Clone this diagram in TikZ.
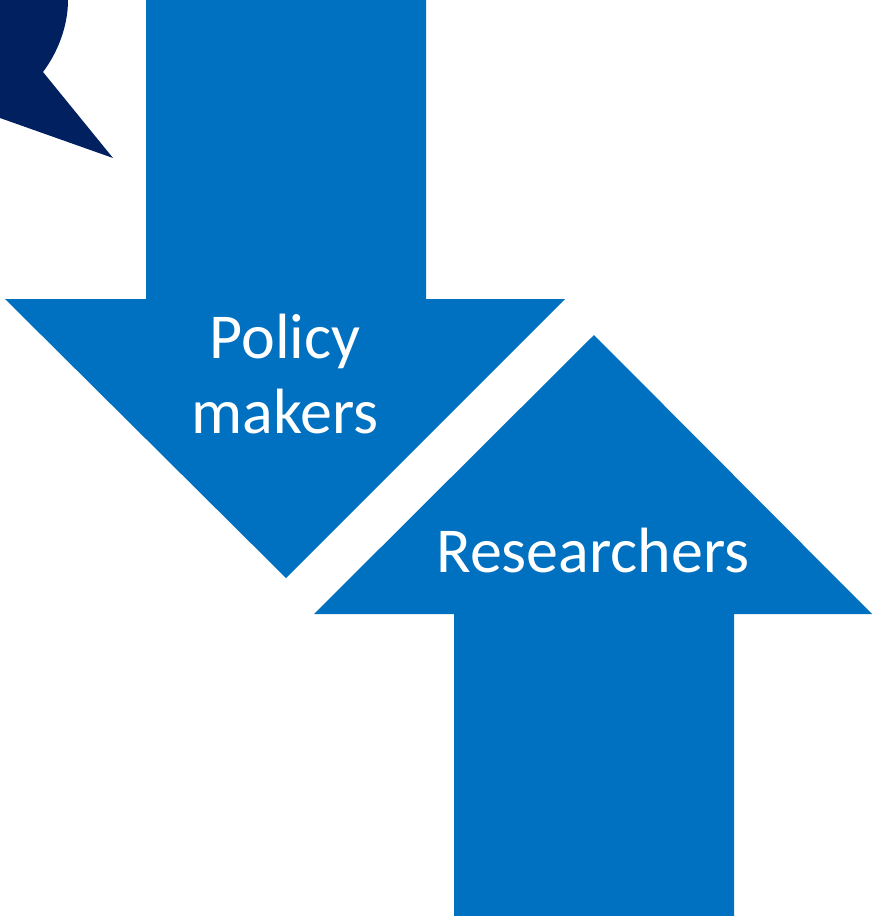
\documentclass[tikz,border=0pt]{standalone}
\usepackage{fontspec}
\setmainfont{Carlito}
\definecolor{arrowblue}{RGB}{0,112,192}
\definecolor{navy}{RGB}{0,32,96}
\begin{document}
\begin{tikzpicture}[x=1pt,y=-1pt,
  arrowshape/.style={fill=arrowblue,draw=none},
  label/.style={text=white,font=\fontsize{64}{76}\selectfont,anchor=base,inner sep=0pt}]
\useasboundingbox (0,0) rectangle (872,916);
% dark callout fragment
\fill[navy] (0,0) -- (68,0) .. controls (68,26) and (58,52) .. (43,72) -- (113,158) -- (0,118) -- cycle;
% down arrow
\path[arrowshape] (146,0) -- (426,0) -- (426,299) -- (565,299) -- (286,578) -- (5,299) -- (146,299) -- cycle;
% up arrow
\path[arrowshape] (454,916) -- (734,916) -- (734,614) -- (872,614) -- (594,335) -- (314,614) -- (454,614) -- cycle;
\node[label] (pol) at (285,358) {Policy};
\node[label] (mak) at (285,433) {makers};
\node[label] (res) at (593,572) {Researchers};
\end{tikzpicture}
\end{document}
